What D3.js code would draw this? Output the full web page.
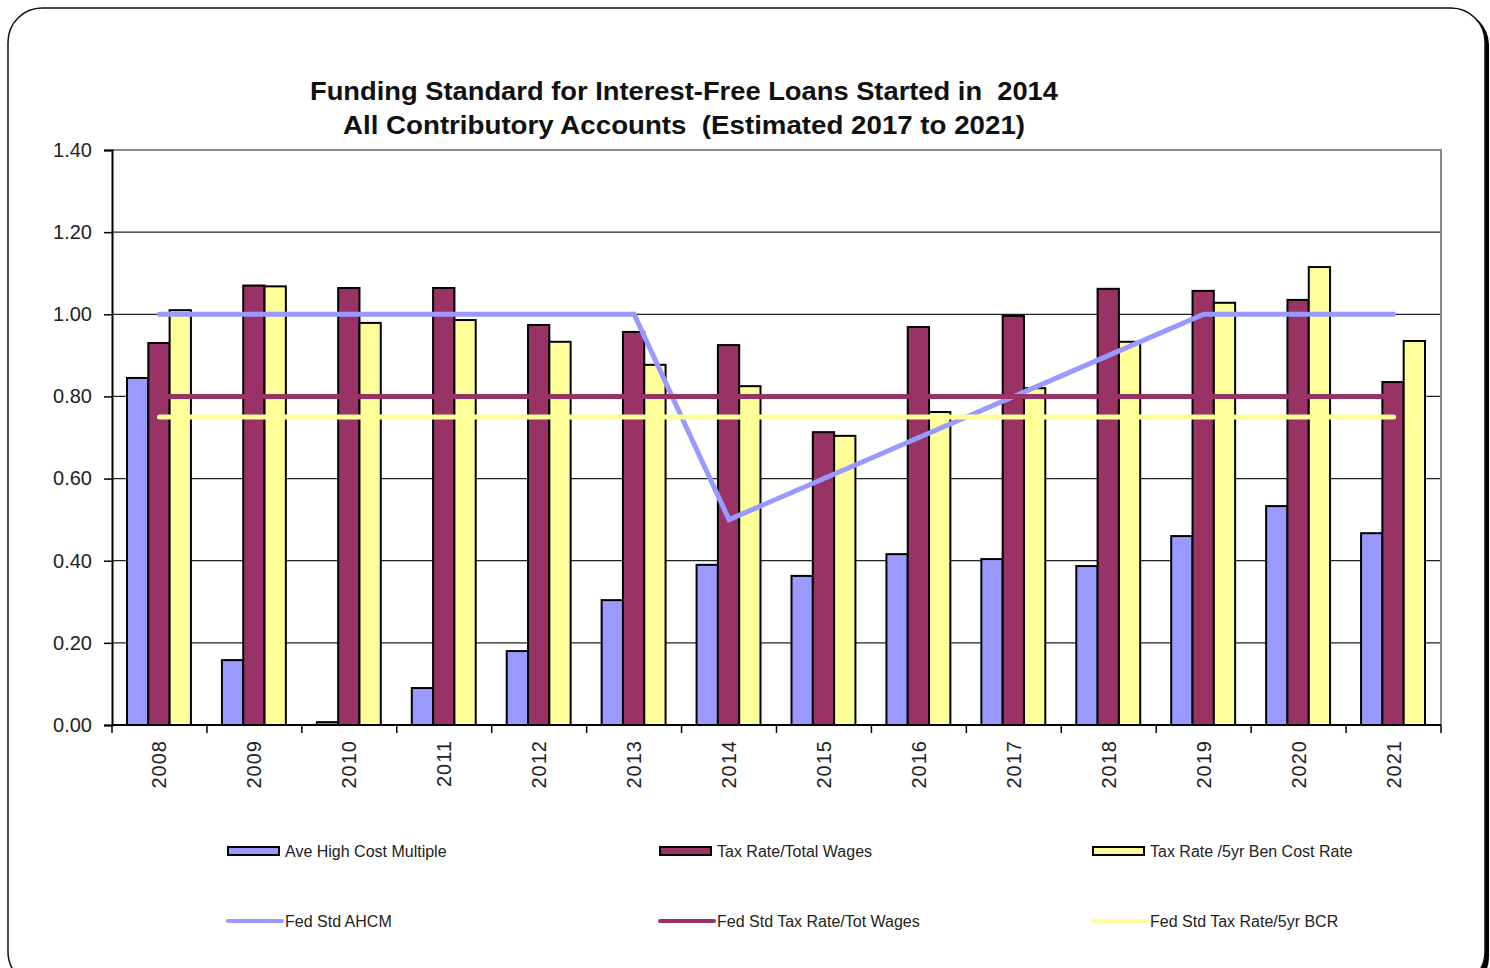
<!DOCTYPE html>
<html lang="en">
<head>
  <meta charset="UTF-8">
  <title>Funding Standard for Interest-Free Loans</title>
  <script src="https://d3js.org/d3.v7.min.js"></script>
  <style>
    body {
      margin: 0;
      background: #fff;
    }

    svg {
      display: block;
      font-family: "Liberation Sans", Arial, sans-serif;
    }

    .title {
      white-space: pre;
    }

    .tick-label {
      font-size: 20px;
      fill: #222;
    }

    .legend-label {
      font-size: 16px;
      fill: #222;
    }
  </style>
</head>
<body>
  <svg width="1490" height="968"></svg>

  <script>
    // chart data
    const years = ["2008", "2009", "2010", "2011", "2012", "2013", "2014", "2015", "2016", "2017", "2018", "2019", "2020", "2021"];
    const aveHighCost = [0.845, 0.158, 0.007, 0.09, 0.18, 0.304, 0.39, 0.363, 0.416, 0.404, 0.387, 0.46, 0.533, 0.467];
    const taxRateWages = [0.93, 1.07, 1.064, 1.064, 0.974, 0.957, 0.925, 0.713, 0.969, 0.996, 1.062, 1.057, 1.035, 0.835];
    const taxRateBCR = [1.01, 1.068, 0.979, 0.986, 0.933, 0.877, 0.825, 0.704, 0.762, 0.82, 0.933, 1.028, 1.115, 0.935];
    const fedStdAHCM = [1.0, 1.0, 1.0, 1.0, 1.0, 1.0, 0.5, 0.6, 0.7, 0.8, 0.9, 1.0, 1.0, 1.0];
    const fedStdWages = [0.8, 0.8, 0.8, 0.8, 0.8, 0.8, 0.8, 0.8, 0.8, 0.8, 0.8, 0.8, 0.8, 0.8];
    const fedStdBCR = [0.75, 0.75, 0.75, 0.75, 0.75, 0.75, 0.75, 0.75, 0.75, 0.75, 0.75, 0.75, 0.75, 0.75];
    const yTicks = [0, 0.2, 0.4, 0.6, 0.8, 1.0, 1.2, 1.4];

    const barSeries = [
      { name: "Ave High Cost Multiple", values: aveHighCost, color: "#9999ff" },
      { name: "Tax Rate/Total Wages", values: taxRateWages, color: "#993366" },
      { name: "Tax Rate /5yr Ben Cost Rate", values: taxRateBCR, color: "#ffff99" }
    ];
    const lineSeries = [
      { name: "Fed Std AHCM", values: fedStdAHCM, color: "#9999ff" },
      { name: "Fed Std Tax Rate/Tot Wages", values: fedStdWages, color: "#993366" },
      { name: "Fed Std Tax Rate/5yr BCR", values: fedStdBCR, color: "#ffff99" }
    ];

    const svg = d3.select("svg");

    // outer rounded frame with a dark shadow on the right
    svg.append("rect")
      .attr("x", 11).attr("y", 11)
      .attr("width", 1478).attr("height", 980)
      .attr("rx", 34)
      .attr("fill", "#000");
    svg.append("rect")
      .attr("x", 8).attr("y", 8)
      .attr("width", 1477).attr("height", 978)
      .attr("rx", 34)
      .attr("fill", "#fff")
      .attr("stroke", "#111")
      .attr("stroke-width", 1.5);

    const plotLeft = 112, plotRight = 1441, plotTop = 150, plotBottom = 725;

    const x0 = d3.scaleBand().domain(years).range([plotLeft, plotRight]);
    const x1 = d3.scaleBand().domain(d3.range(barSeries.length))
      .range([15, x0.bandwidth() - 16]);
    const y = d3.scaleLinear().domain([0, 1.4]).range([plotBottom, plotTop]);

    // title
    const title = svg.append("text")
      .attr("class", "title")
      .attr("text-anchor", "middle")
      .attr("font-size", 25)
      .attr("font-weight", "bold")
      .attr("fill", "#111");
    title.append("tspan").attr("x", 684).attr("y", 100)
      .attr("textLength", 748).attr("lengthAdjust", "spacingAndGlyphs")
      .text("Funding Standard for Interest-Free Loans Started in  2014");
    title.append("tspan").attr("x", 684).attr("y", 134)
      .attr("textLength", 682).attr("lengthAdjust", "spacingAndGlyphs")
      .text("All Contributory Accounts  (Estimated 2017 to 2021)");

    // gridlines
    svg.append("g")
      .selectAll("line")
      .data(yTicks.filter(d => d > 0 && d < 1.4))
      .join("line")
      .attr("x1", plotLeft).attr("x2", plotRight)
      .attr("y1", d => y(d)).attr("y2", d => y(d))
      .attr("stroke", "#222")
      .attr("stroke-width", 1.2);

    // plot area border (top + right)
    svg.append("path")
      .attr("d", `M${plotLeft},${plotTop}H${plotRight}V${plotBottom}`)
      .attr("fill", "none")
      .attr("stroke", "#888")
      .attr("stroke-width", 2);

    // bars
    svg.append("g")
      .selectAll("g")
      .data(barSeries)
      .join("g")
      .attr("fill", d => d.color)
      .selectAll("rect")
      .data((s, i) => s.values.map((v, j) => ({ v, year: years[j], i })))
      .join("rect")
      .attr("x", d => x0(d.year) + x1(d.i))
      .attr("y", d => y(d.v))
      .attr("width", x1.bandwidth())
      .attr("height", d => plotBottom - y(d.v))
      .attr("stroke", "#000")
      .attr("stroke-width", 2);

    // standard lines
    const line = d3.line()
      .x((d, i) => x0(years[i]) + x0.bandwidth() / 2)
      .y(d => y(d));
    svg.append("g")
      .selectAll("path")
      .data(lineSeries)
      .join("path")
      .attr("d", d => line(d.values))
      .attr("fill", "none")
      .attr("stroke", d => d.color)
      .attr("stroke-width", 5)
      .attr("stroke-linecap", "round");

    // y axis
    const yAxis = svg.append("g")
      .attr("transform", `translate(${plotLeft},0)`)
      .call(d3.axisLeft(y).tickValues(yTicks).tickFormat(d3.format(".2f")).tickSize(8).tickPadding(12));
    yAxis.select(".domain").attr("stroke", "#000").attr("stroke-width", 2);
    yAxis.selectAll(".tick line").attr("stroke", "#000").attr("stroke-width", 1.5);
    yAxis.selectAll(".tick text").attr("class", "tick-label");
    yAxis.attr("font-size", null).attr("font-family", null);

    // x axis: ticks between categories
    svg.append("line")
      .attr("x1", plotLeft).attr("x2", plotRight)
      .attr("y1", plotBottom).attr("y2", plotBottom)
      .attr("stroke", "#000").attr("stroke-width", 2);
    svg.append("g")
      .selectAll("line")
      .data(years.concat(["end"]))
      .join("line")
      .attr("x1", (d, i) => i < years.length ? x0(d) : plotRight)
      .attr("x2", (d, i) => i < years.length ? x0(d) : plotRight)
      .attr("y1", plotBottom).attr("y2", plotBottom + 8)
      .attr("stroke", "#000").attr("stroke-width", 1.5);
    svg.append("g")
      .selectAll("text")
      .data(years)
      .join("text")
      .attr("class", "tick-label")
      .attr("transform", d => `translate(${x0(d) + x0.bandwidth() / 2 + 7},${740}) rotate(-90)`)
      .attr("text-anchor", "end")
      .attr("letter-spacing", 1)
      .text(d => d);

    // legend
    const legendX = [228, 660, 1093];
    const bl = svg.append("g")
      .selectAll("g")
      .data(barSeries)
      .join("g")
      .attr("transform", (d, i) => `translate(${legendX[i]},851)`);
    bl.append("rect")
      .attr("x", 0).attr("y", -4)
      .attr("width", 51).attr("height", 8)
      .attr("fill", d => d.color)
      .attr("stroke", "#000")
      .attr("stroke-width", 2);
    bl.append("text")
      .attr("class", "legend-label")
      .attr("x", 57).attr("y", 6)
      .text(d => d.name);

    const ll = svg.append("g")
      .selectAll("g")
      .data(lineSeries)
      .join("g")
      .attr("transform", (d, i) => `translate(${legendX[i]},921)`);
    ll.append("line")
      .attr("x1", 0).attr("x2", 54)
      .attr("y1", 0).attr("y2", 0)
      .attr("stroke", d => d.color)
      .attr("stroke-width", 4)
      .attr("stroke-linecap", "round");
    ll.append("text")
      .attr("class", "legend-label")
      .attr("x", 57).attr("y", 6)
      .text(d => d.name);
  </script>
</body>
</html>
